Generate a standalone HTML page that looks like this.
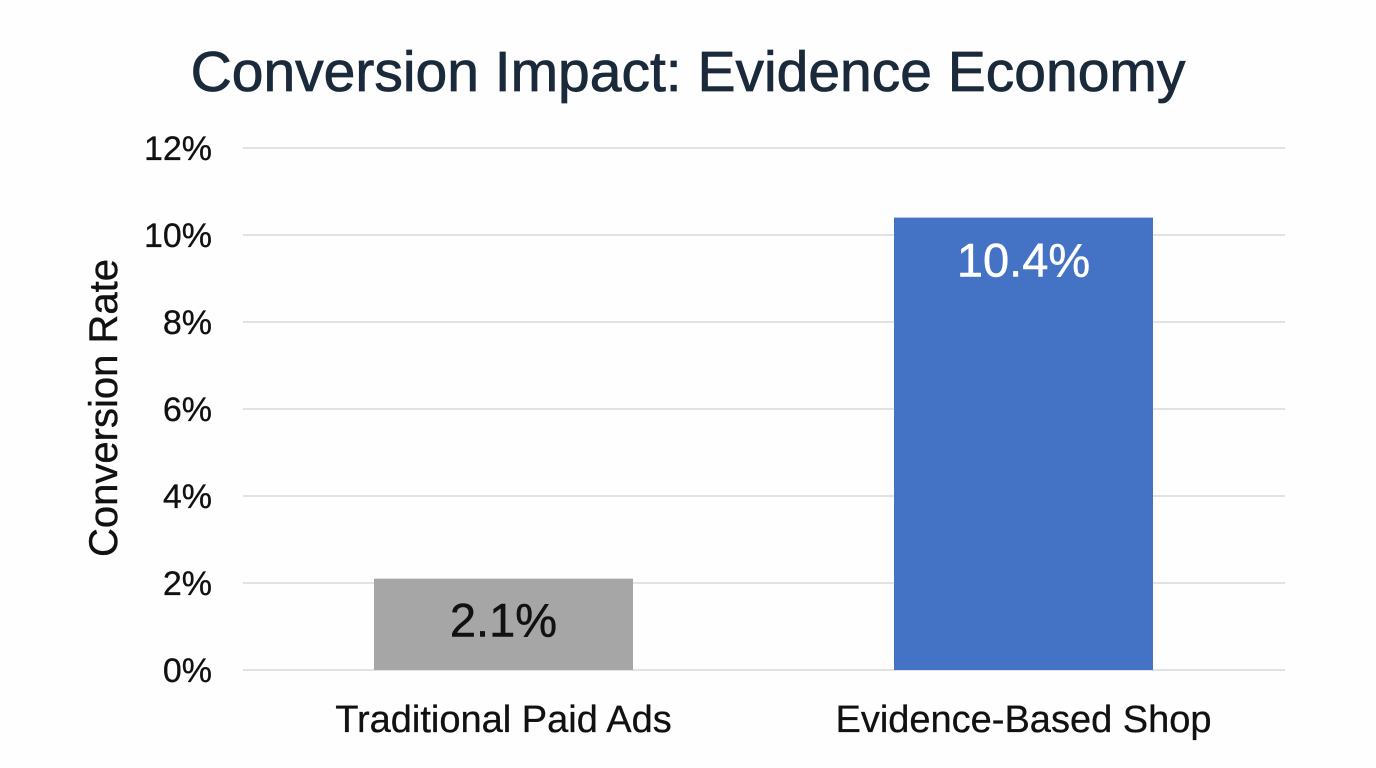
<!DOCTYPE html>
<html><head><meta charset="utf-8">
<style>
html,body{margin:0;padding:0;background:#fefefe;}
svg{display:block;font-family:"Liberation Sans",sans-serif;}
</style></head>
<body>
<svg id="chart" width="1376" height="768" viewBox="0 0 1376 768">
<text x="688" y="91" text-anchor="middle" font-size="57" fill="#1b2a3b" stroke="#1b2a3b" stroke-width="0.8">Conversion Impact: Evidence Economy</text>
<text transform="translate(117,408) rotate(-90)" text-anchor="middle" font-size="40" fill="#111" stroke="#111" stroke-width="0.4">Conversion Rate</text>
<g id="grid"></g><g id="bars"></g><g id="labels"></g>
</svg>
<script>
const categories=["Traditional Paid Ads","Evidence-Based Shop"];
const values=[2.1,10.4];
const valueLabels=["2.1%","10.4%"];
const ticks=[0,2,4,6,8,10,12];
const tickLabels=["0%","2%","4%","6%","8%","10%","12%"];
const ns="http://www.w3.org/2000/svg";
const y=v=>670-v*43.5;
const x=i=>374+i*520;
const bw=259;
const colors=["#a6a6a6","#4472c4"];
const textColors=["#111","#fff"];
function mk(t,a,p){const e=document.createElementNS(ns,t);for(const k in a)e.setAttribute(k,a[k]);p.appendChild(e);return e;}
const g=document.getElementById('grid'),b=document.getElementById('bars'),l=document.getElementById('labels');
ticks.forEach((t,i)=>{
 const ln=mk('line',{x1:243,x2:1285,y1:y(t),y2:y(t),stroke:'#d9d9d9','stroke-width':1.5},g);
 
 
 const tx=mk('text',{x:212,y:y(t)+12,'text-anchor':'end','font-size':34,fill:'#111',stroke:'#111','stroke-width':0.3},g);
 tx.textContent=tickLabels[i];
 
 
});
values.forEach((v,i)=>{
 const r=mk('rect',{x:x(i),y:y(v),width:bw,height:y(0)-y(v),fill:colors[i]},b);
 
 
 const ty=v<4?y(v)+58:y(v)+59;
 const vt=mk('text',{x:x(i)+bw/2,y:ty,'text-anchor':'middle','font-size':47,fill:textColors[i],stroke:textColors[i],'stroke-width':0.5},l);
 vt.textContent=valueLabels[i];
 
 
 const ct=mk('text',{x:x(i)+bw/2,y:732,'text-anchor':'middle','font-size':38,fill:'#111',stroke:'#111','stroke-width':0.3},l);
 ct.textContent=categories[i];
 
 
});
</script>
</body></html>
